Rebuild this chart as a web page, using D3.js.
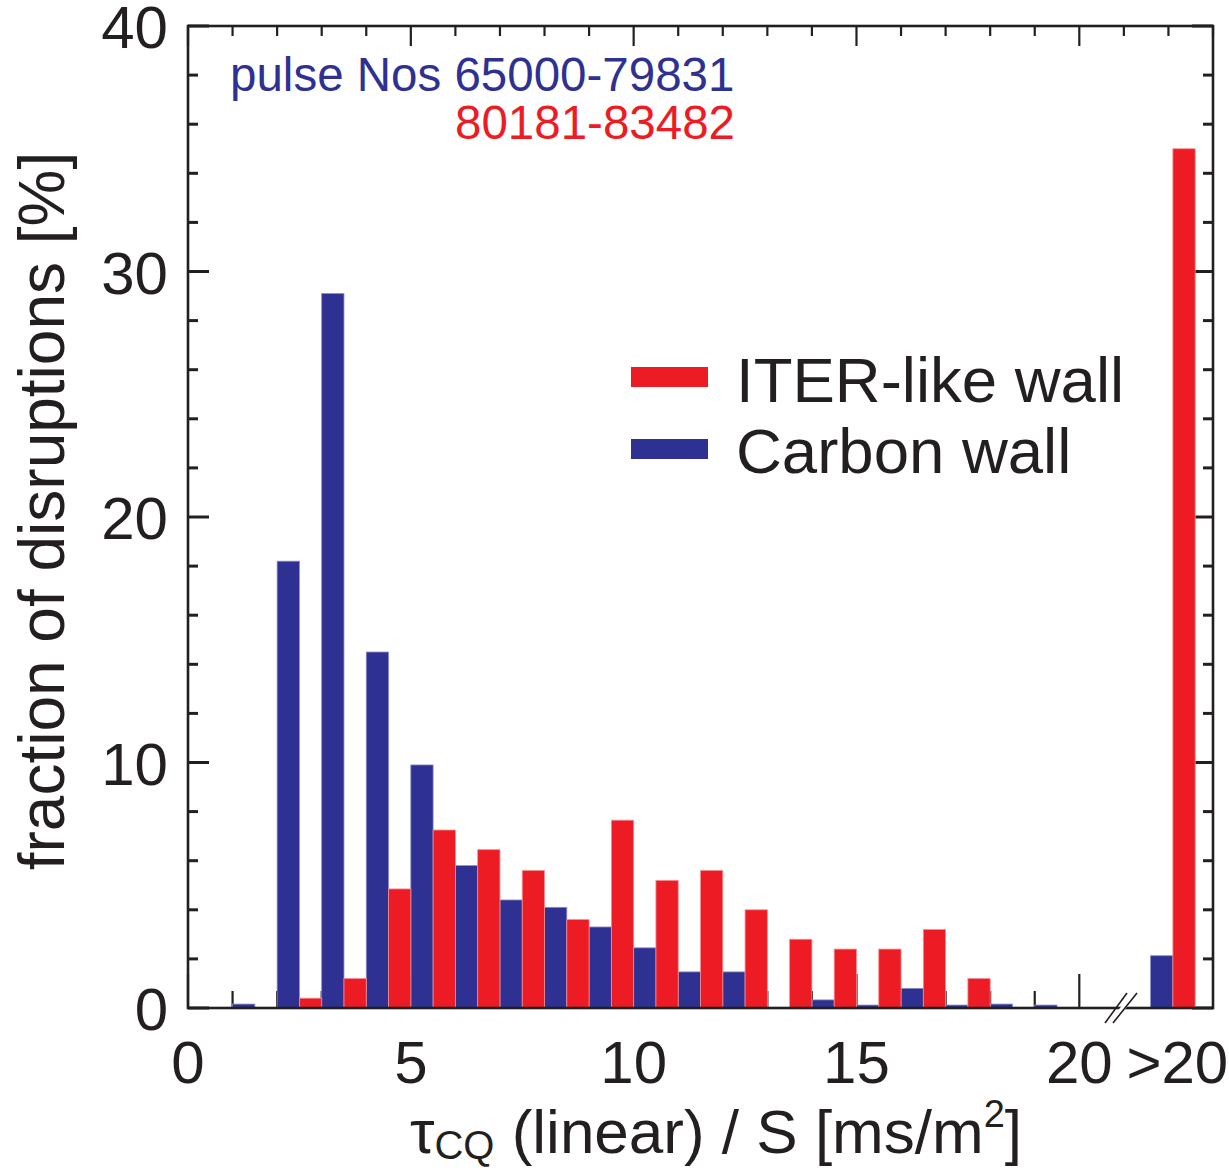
<!DOCTYPE html>
<html>
<head>
<meta charset="utf-8">
<script src="https://cdn.jsdelivr.net/npm/d3@7"></script>
<style>
  html, body { margin: 0; padding: 0; background: #fff; }
  svg { display: block; }
  text { font-family: "Liberation Sans", Arial, Helvetica, sans-serif; fill: #231f20; }
</style>
</head>
<body>
<div id="chart"></div>
<script>
// Histogram bins of tau_CQ / S (ms/m^2); the last bin collects everything above 20
const bins = ["0", "1", "2", "3", "4", "5", "6", "7", "8", "9", "10",
              "11", "12", "13", "14", "15", "16", "17", "18", "19", ">20"];

// Fraction of disruptions [%] per bin
const carbonWall   = [0, 0.16, 18.2, 29.1, 14.5, 9.9, 5.8, 4.4, 4.1, 3.3, 2.45,
                      1.47, 1.47, 0, 0.33, 0.12, 0.8, 0.12, 0.16, 0.12, 2.13];
const iterLikeWall = [0, 0, 0.4, 1.2, 4.85, 7.25, 6.45, 5.6, 3.6, 7.65, 5.2,
                      5.6, 4.0, 2.8, 2.4, 2.4, 3.2, 1.2, 0, 0, 35.0];

const seriesNames  = ["ITER-like wall", "Carbon wall"];
const xTickValues  = [0, 5, 10, 15, 20];
const yTickValues  = [0, 10, 20, 30, 40];
const pulseRanges  = ["pulse Nos 65000-79831", "80181-83482"];

const W = 1229, H = 1168;
const BLUE = "#2e3192", RED = "#ed1c24", INK = "#231f20";
const OVERFLOW_POS = 21.6;   // where the ">20" bin sits past the axis break

const svg = d3.select("#chart").append("svg")
  .attr("width", W).attr("height", H);

const x = d3.scaleLinear().domain([0, 23]).range([188, 1213]);
const y = d3.scaleLinear().domain([0, 40]).range([1008, 26]);

const binPos = b => (b === ">20" ? OVERFLOW_POS : +b);
const halfW = x(0.5) - x(0);

// ---- ticks (drawn under the bars) ----
const ticks = svg.append("g").attr("stroke", INK).attr("stroke-width", 2.2);
// bottom: every integer up to 20, long at multiples of 5
d3.range(0, 21).forEach(v => {
  ticks.append("line")
    .attr("x1", x(v)).attr("x2", x(v))
    .attr("y1", y(0)).attr("y2", y(0) - (v % 5 === 0 ? 34 : 17));
});
// top: every integer, long at multiples of 5
d3.range(0, 24).forEach(v => {
  ticks.append("line")
    .attr("x1", x(v)).attr("x2", x(v))
    .attr("y1", y(40)).attr("y2", y(40) + (v % 5 === 0 ? 20 : 10));
});
// left and right: every 2 %, long at multiples of 10
d3.range(0, 41, 2).forEach(v => {
  const len = v % 10 === 0 ? 21 : 10;
  ticks.append("line").attr("stroke-width", 3)
    .attr("x1", x(0)).attr("x2", x(0) + len)
    .attr("y1", y(v)).attr("y2", y(v));
  ticks.append("line").attr("stroke-width", 3)
    .attr("x1", x(23)).attr("x2", x(23) - len)
    .attr("y1", y(v)).attr("y2", y(v));
});

// ---- bars ----
const barData = bins.map((b, i) => ({ bin: b, pos: binPos(b), carbon: carbonWall[i], iter: iterLikeWall[i] }));

svg.append("g").selectAll("rect.carbon")
  .data(barData.filter(d => d.carbon > 0))
  .join("rect")
  .attr("class", "carbon")
  .attr("x", d => x(d.pos))
  .attr("width", halfW)
  .attr("y", d => y(d.carbon))
  .attr("height", d => y(0) - y(d.carbon))
  .attr("fill", BLUE)
  .attr("stroke", "#8a8cc4").attr("stroke-width", 0.8);

svg.append("g").selectAll("rect.iter")
  .data(barData.filter(d => d.iter > 0))
  .join("rect")
  .attr("class", "iter")
  .attr("x", d => x(d.pos + 0.5))
  .attr("width", halfW)
  .attr("y", d => y(d.iter))
  .attr("height", d => y(0) - y(d.iter))
  .attr("fill", RED)
  .attr("stroke", "#f48f92").attr("stroke-width", 0.8);

// ---- frame ----
svg.append("rect")
  .attr("x", x(0)).attr("y", y(40))
  .attr("width", x(23) - x(0)).attr("height", y(0) - y(40))
  .attr("fill", "none").attr("stroke", INK).attr("stroke-width", 2.6);

// axis break on the bottom axis
const brk = svg.append("g");
brk.append("polygon")
  .attr("points", [[1115, 1014], [1121, 1014], [1131, 1002], [1125, 1002]].join(" "))
  .attr("fill", "#fff");
[[1105, 1023, 1127, 993], [1113, 1023, 1137, 993]].forEach(s => {
  brk.append("line")
    .attr("x1", s[0]).attr("y1", s[1]).attr("x2", s[2]).attr("y2", s[3])
    .attr("stroke", INK).attr("stroke-width", 1.6);
});

// ---- tick labels ----
const tickFont = 60;
svg.append("g").selectAll("text")
  .data(yTickValues)
  .join("text")
  .attr("x", 168)
  .attr("y", d => y(d) + 22)
  .attr("text-anchor", "end")
  .attr("font-size", tickFont)
  .text(d => d);

svg.append("g").selectAll("text")
  .data(xTickValues)
  .join("text")
  .attr("x", d => x(d))
  .attr("y", 1083)
  .attr("text-anchor", "middle")
  .attr("font-size", tickFont)
  .text(d => d);

svg.append("text")
  .attr("x", x(OVERFLOW_POS + 0.6))
  .attr("y", 1083)
  .attr("text-anchor", "middle")
  .attr("font-size", tickFont)
  .text(bins[bins.length - 1]);

// ---- axis titles ----
const xt = svg.append("text")
  .attr("x", 716).attr("y", 1153)
  .attr("text-anchor", "middle")
  .attr("font-size", 62);
xt.append("tspan").text("τ");
xt.append("tspan").attr("font-size", 40).attr("dy", 6).text("CQ");
xt.append("tspan").attr("dy", -6).text(" (linear) / S [ms/m");
xt.append("tspan").attr("font-size", 38).attr("dy", -26).text("2");
xt.append("tspan").attr("dy", 26).text("]");

svg.append("text")
  .attr("transform", "translate(64,511) rotate(-90)")
  .attr("text-anchor", "middle")
  .attr("font-size", 64)
  .text("fraction of disruptions [%]");

// ---- pulse ranges ----
svg.append("text")
  .attr("x", 230).attr("y", 91)
  .attr("font-size", 47.5)
  .style("fill", BLUE)
  .text(pulseRanges[0]);
svg.append("text")
  .attr("x", 735).attr("y", 139)
  .attr("text-anchor", "end")
  .attr("font-size", 47.5)
  .style("fill", RED)
  .text(pulseRanges[1]);

// ---- legend ----
const legend = svg.append("g");
[[RED, 367, 402], [BLUE, 439, 473]].forEach((row, i) => {
  legend.append("rect")
    .attr("x", 631).attr("y", row[1]).attr("width", 77).attr("height", 20)
    .attr("fill", row[0]);
  legend.append("text")
    .attr("x", 736).attr("y", row[2])
    .attr("font-size", 63.5)
    .text(seriesNames[i]);
});
</script>
</body>
</html>
